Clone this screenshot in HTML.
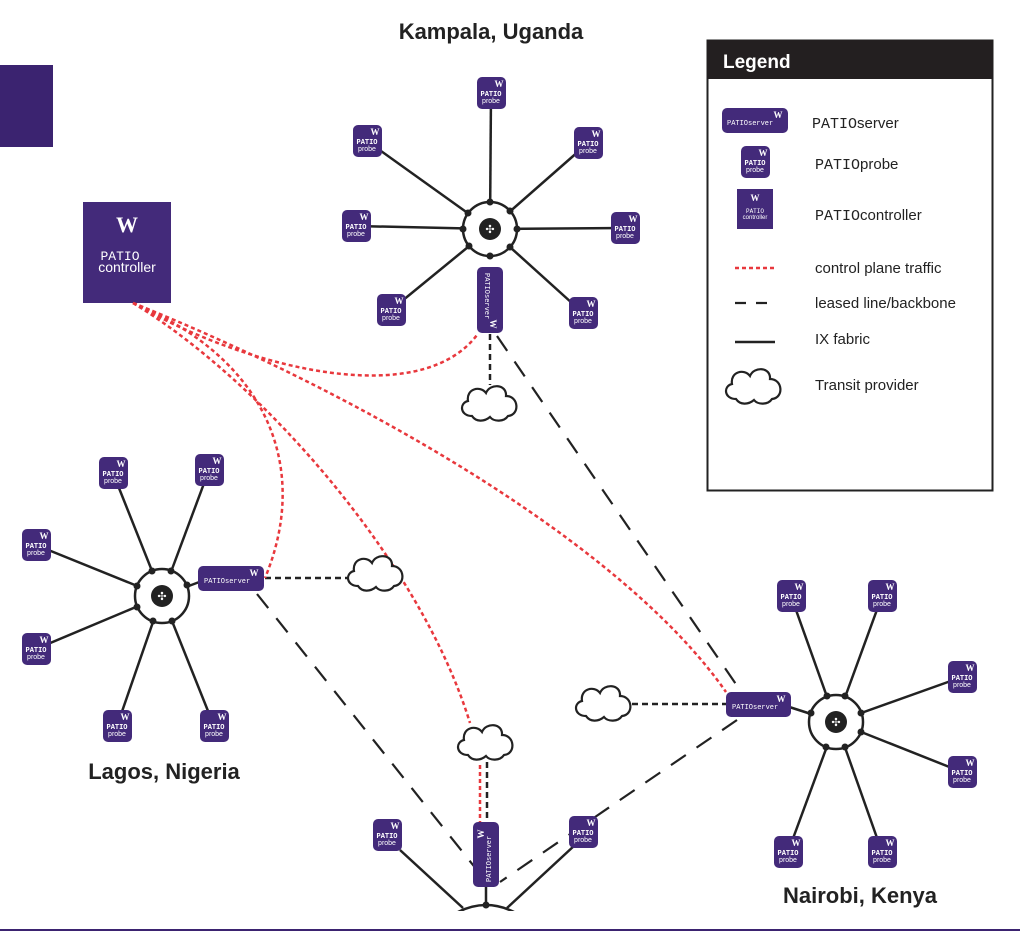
<!DOCTYPE html>
<html><head><meta charset="utf-8"><style>
html,body{margin:0;padding:0;background:#fff;}
svg{display:block;}
.p{fill:#432a7a;}
.w{fill:#fff;font-family:"Liberation Serif",serif;font-weight:bold;font-size:9px;text-anchor:middle;}
.t{fill:#fff;font-family:"Liberation Mono",monospace;font-size:7px;text-anchor:middle;font-weight:bold;}
.s{fill:#fff;font-family:"Liberation Sans",sans-serif;font-size:7px;text-anchor:middle;}
.ln{stroke:#222;stroke-width:2.5;fill:none;}
.red{stroke:#e8383d;stroke-width:2.5;fill:none;stroke-dasharray:4 3;}
.ld{stroke:#222;stroke-width:2.2;fill:none;stroke-dasharray:18 13;}
.sd{stroke:#222;stroke-width:2.5;fill:none;stroke-dasharray:6 4;}
.cl{fill:#fff;stroke:#222;stroke-width:2.2;}
.title{font-family:"Liberation Sans",sans-serif;font-weight:bold;font-size:22px;fill:#222;}
.lg{font-family:"Liberation Sans",sans-serif;font-size:15px;fill:#222;}
.lgm{font-family:"Liberation Mono",monospace;font-size:15px;fill:#222;}
</style></head><body>
<svg width="1020" height="932" viewBox="0 0 1020 932" xmlns="http://www.w3.org/2000/svg">
<rect x="0" y="65" width="53" height="82" fill="#3b2370"/>
<rect x="83" y="202" width="88" height="101" class="p"/>
<text x="127" y="232" class="w" style="font-size:22px">W</text>
<text x="120" y="260" style="fill:#fff;font-family:'Liberation Mono',monospace;font-size:13px;text-anchor:middle">PATIO</text>
<text x="127" y="272" style="fill:#fff;font-family:'Liberation Sans',sans-serif;font-size:14px;text-anchor:middle">controller</text>

<text x="491" y="39" class="title" text-anchor="middle">Kampala, Uganda</text>
<text x="164" y="779" class="title" text-anchor="middle">Lagos, Nigeria</text>
<text x="860" y="903" class="title" text-anchor="middle">Nairobi, Kenya</text>

<path class="ld" d="M497,336 L740,690"/>
<path class="ld" d="M257,594 L477,870"/>
<path class="ld" d="M737,720 L500,882"/>
<path class="sd" d="M490,334 L490,385"/>
<path class="sd" d="M265,578 L350,578"/>
<path class="sd" d="M632,704 L726,704"/>
<path class="sd" d="M487,762 L487,822"/>
<path class="red" d="M480,765 L480,822"/>

<path class="red" d="M133,303 C250,370 420,410 477,335"/>
<path class="red" d="M133,303 C270,360 310,470 265,578"/>
<path class="red" d="M133,303 C260,380 420,560 470,723"/>
<path class="red" d="M133,303 C350,390 620,540 726,692"/>

<g transform="translate(490,404)"><path class="cl" d="M-18,12 C-30,12 -31,-1 -22,-3 C-24,-15 -10,-19 -4,-11 C0,-21 17,-20 16,-8 C29,-8 30,11 18,12 C14,18 4,18 0,13 C-6,18 -14,18 -18,12 Z"/></g>
<g transform="translate(376,574)"><path class="cl" d="M-18,12 C-30,12 -31,-1 -22,-3 C-24,-15 -10,-19 -4,-11 C0,-21 17,-20 16,-8 C29,-8 30,11 18,12 C14,18 4,18 0,13 C-6,18 -14,18 -18,12 Z"/></g>
<g transform="translate(604,704)"><path class="cl" d="M-18,12 C-30,12 -31,-1 -22,-3 C-24,-15 -10,-19 -4,-11 C0,-21 17,-20 16,-8 C29,-8 30,11 18,12 C14,18 4,18 0,13 C-6,18 -14,18 -18,12 Z"/></g>
<g transform="translate(486,743)"><path class="cl" d="M-18,12 C-30,12 -31,-1 -22,-3 C-24,-15 -10,-19 -4,-11 C0,-21 17,-20 16,-8 C29,-8 30,11 18,12 C14,18 4,18 0,13 C-6,18 -14,18 -18,12 Z"/></g>

<g class="ln">
<line x1="490" y1="229" x2="491" y2="93"/><line x1="490" y1="229" x2="367" y2="141"/><line x1="490" y1="229" x2="588" y2="143"/>
<line x1="490" y1="229" x2="356" y2="226"/><line x1="490" y1="229" x2="625" y2="228"/><line x1="490" y1="229" x2="391" y2="310"/><line x1="490" y1="229" x2="583" y2="313"/>
</g>
<g class="ln">
<line x1="162" y1="596" x2="113" y2="473"/><line x1="162" y1="596" x2="209" y2="470"/><line x1="162" y1="596" x2="36" y2="545"/>
<line x1="162" y1="596" x2="36" y2="649"/><line x1="162" y1="596" x2="117" y2="726"/><line x1="162" y1="596" x2="214" y2="726"/><line x1="162" y1="596" x2="210" y2="578"/>
</g>
<g class="ln">
<line x1="836" y1="722" x2="791" y2="596"/><line x1="836" y1="722" x2="882" y2="596"/><line x1="836" y1="722" x2="962" y2="677"/>
<line x1="836" y1="722" x2="962" y2="772"/><line x1="836" y1="722" x2="788" y2="852"/><line x1="836" y1="722" x2="882" y2="852"/><line x1="836" y1="722" x2="780" y2="704"/>
</g>
<g class="ln">
<line x1="400" y1="850" x2="463" y2="908"/><line x1="575" y1="845" x2="507" y2="908"/><line x1="486" y1="885" x2="486" y2="905"/>
</g>

<g>
<circle cx="490" cy="229" r="27" fill="#fff" stroke="#222" stroke-width="2.5"/>
<circle cx="490" cy="229" r="11" fill="#222"/>
<text x="490" y="233" style="fill:#fff;font-size:11px;font-family:'DejaVu Sans',sans-serif;text-anchor:middle">✣</text>
<g fill="#222"><circle cx="490" cy="202" r="3.5"/><circle cx="468" cy="213" r="3.5"/><circle cx="510" cy="211" r="3.5"/><circle cx="463" cy="229" r="3.5"/><circle cx="517" cy="229" r="3.5"/><circle cx="469" cy="246" r="3.5"/><circle cx="510" cy="247" r="3.5"/><circle cx="490" cy="256" r="3.5"/></g>
</g>
<g>
<circle cx="162" cy="596" r="27" fill="#fff" stroke="#222" stroke-width="2.5"/>
<circle cx="162" cy="596" r="11" fill="#222"/>
<text x="162" y="600" style="fill:#fff;font-size:11px;font-family:'DejaVu Sans',sans-serif;text-anchor:middle">✣</text>
<g fill="#222"><circle cx="152" cy="571" r="3.5"/><circle cx="171" cy="571" r="3.5"/><circle cx="137" cy="586" r="3.5"/><circle cx="137" cy="607" r="3.5"/><circle cx="153" cy="621" r="3.5"/><circle cx="172" cy="621" r="3.5"/><circle cx="187" cy="585" r="3.5"/></g>
</g>
<g>
<circle cx="836" cy="722" r="27" fill="#fff" stroke="#222" stroke-width="2.5"/>
<circle cx="836" cy="722" r="11" fill="#222"/>
<text x="836" y="726" style="fill:#fff;font-size:11px;font-family:'DejaVu Sans',sans-serif;text-anchor:middle">✣</text>
<g fill="#222"><circle cx="827" cy="696" r="3.5"/><circle cx="845" cy="696" r="3.5"/><circle cx="861" cy="713" r="3.5"/><circle cx="861" cy="732" r="3.5"/><circle cx="826" cy="747" r="3.5"/><circle cx="845" cy="747" r="3.5"/><circle cx="811" cy="713" r="3.5"/></g>
</g>
<g>
<path d="M458,912 Q486,898 514,912" fill="none" stroke="#222" stroke-width="2.5"/>
<circle cx="486" cy="905" r="3.5" fill="#222"/>
</g>
<rect x="0" y="911" width="1020" height="18" fill="#fff"/>
<rect x="0" y="929" width="1020" height="2" fill="#3b2370"/>

<g transform="translate(477,267)"><rect width="26" height="66" rx="5" class="p"/>
<text x="13" y="57" class="w" transform="rotate(90 13 57)">W</text>
<text x="8" y="6" transform="rotate(90 8 6)" style="fill:#fff;font-family:'Liberation Mono',monospace;font-size:7px">PATIOserver</text></g>
<g transform="translate(473,822)"><rect width="26" height="65" rx="5" class="p"/>
<text x="11" y="12" class="w" transform="rotate(-90 11 12)">W</text>
<text x="18" y="60" transform="rotate(-90 18 60)" style="fill:#fff;font-family:'Liberation Mono',monospace;font-size:7px">PATIOserver</text></g>
<g transform="translate(198,566)"><rect width="66" height="25" rx="5" class="p"/>
<text x="56" y="10" class="w">W</text>
<text x="6" y="17" style="fill:#fff;font-family:'Liberation Mono',monospace;font-size:7px">PATIOserver</text></g>
<g transform="translate(726,692)"><rect width="65" height="25" rx="5" class="p"/>
<text x="55" y="10" class="w">W</text>
<text x="6" y="17" style="fill:#fff;font-family:'Liberation Mono',monospace;font-size:7px">PATIOserver</text></g>

<g transform="translate(491,93)"><rect x="-14" y="-16" width="29" height="32" rx="5" class="p"/><text x="8" y="-6" class="w">W</text><text x="0" y="3" class="t">PATIO</text><text x="0" y="10" class="s">probe</text></g>
<g transform="translate(367,141)"><rect x="-14" y="-16" width="29" height="32" rx="5" class="p"/><text x="8" y="-6" class="w">W</text><text x="0" y="3" class="t">PATIO</text><text x="0" y="10" class="s">probe</text></g>
<g transform="translate(588,143)"><rect x="-14" y="-16" width="29" height="32" rx="5" class="p"/><text x="8" y="-6" class="w">W</text><text x="0" y="3" class="t">PATIO</text><text x="0" y="10" class="s">probe</text></g>
<g transform="translate(356,226)"><rect x="-14" y="-16" width="29" height="32" rx="5" class="p"/><text x="8" y="-6" class="w">W</text><text x="0" y="3" class="t">PATIO</text><text x="0" y="10" class="s">probe</text></g>
<g transform="translate(625,228)"><rect x="-14" y="-16" width="29" height="32" rx="5" class="p"/><text x="8" y="-6" class="w">W</text><text x="0" y="3" class="t">PATIO</text><text x="0" y="10" class="s">probe</text></g>
<g transform="translate(391,310)"><rect x="-14" y="-16" width="29" height="32" rx="5" class="p"/><text x="8" y="-6" class="w">W</text><text x="0" y="3" class="t">PATIO</text><text x="0" y="10" class="s">probe</text></g>
<g transform="translate(583,313)"><rect x="-14" y="-16" width="29" height="32" rx="5" class="p"/><text x="8" y="-6" class="w">W</text><text x="0" y="3" class="t">PATIO</text><text x="0" y="10" class="s">probe</text></g>

<g transform="translate(113,473)"><rect x="-14" y="-16" width="29" height="32" rx="5" class="p"/><text x="8" y="-6" class="w">W</text><text x="0" y="3" class="t">PATIO</text><text x="0" y="10" class="s">probe</text></g>
<g transform="translate(209,470)"><rect x="-14" y="-16" width="29" height="32" rx="5" class="p"/><text x="8" y="-6" class="w">W</text><text x="0" y="3" class="t">PATIO</text><text x="0" y="10" class="s">probe</text></g>
<g transform="translate(36,545)"><rect x="-14" y="-16" width="29" height="32" rx="5" class="p"/><text x="8" y="-6" class="w">W</text><text x="0" y="3" class="t">PATIO</text><text x="0" y="10" class="s">probe</text></g>
<g transform="translate(36,649)"><rect x="-14" y="-16" width="29" height="32" rx="5" class="p"/><text x="8" y="-6" class="w">W</text><text x="0" y="3" class="t">PATIO</text><text x="0" y="10" class="s">probe</text></g>
<g transform="translate(117,726)"><rect x="-14" y="-16" width="29" height="32" rx="5" class="p"/><text x="8" y="-6" class="w">W</text><text x="0" y="3" class="t">PATIO</text><text x="0" y="10" class="s">probe</text></g>
<g transform="translate(214,726)"><rect x="-14" y="-16" width="29" height="32" rx="5" class="p"/><text x="8" y="-6" class="w">W</text><text x="0" y="3" class="t">PATIO</text><text x="0" y="10" class="s">probe</text></g>

<g transform="translate(791,596)"><rect x="-14" y="-16" width="29" height="32" rx="5" class="p"/><text x="8" y="-6" class="w">W</text><text x="0" y="3" class="t">PATIO</text><text x="0" y="10" class="s">probe</text></g>
<g transform="translate(882,596)"><rect x="-14" y="-16" width="29" height="32" rx="5" class="p"/><text x="8" y="-6" class="w">W</text><text x="0" y="3" class="t">PATIO</text><text x="0" y="10" class="s">probe</text></g>
<g transform="translate(962,677)"><rect x="-14" y="-16" width="29" height="32" rx="5" class="p"/><text x="8" y="-6" class="w">W</text><text x="0" y="3" class="t">PATIO</text><text x="0" y="10" class="s">probe</text></g>
<g transform="translate(962,772)"><rect x="-14" y="-16" width="29" height="32" rx="5" class="p"/><text x="8" y="-6" class="w">W</text><text x="0" y="3" class="t">PATIO</text><text x="0" y="10" class="s">probe</text></g>
<g transform="translate(788,852)"><rect x="-14" y="-16" width="29" height="32" rx="5" class="p"/><text x="8" y="-6" class="w">W</text><text x="0" y="3" class="t">PATIO</text><text x="0" y="10" class="s">probe</text></g>
<g transform="translate(882,852)"><rect x="-14" y="-16" width="29" height="32" rx="5" class="p"/><text x="8" y="-6" class="w">W</text><text x="0" y="3" class="t">PATIO</text><text x="0" y="10" class="s">probe</text></g>

<g transform="translate(387,835)"><rect x="-14" y="-16" width="29" height="32" rx="5" class="p"/><text x="8" y="-6" class="w">W</text><text x="0" y="3" class="t">PATIO</text><text x="0" y="10" class="s">probe</text></g>
<g transform="translate(583,832)"><rect x="-14" y="-16" width="29" height="32" rx="5" class="p"/><text x="8" y="-6" class="w">W</text><text x="0" y="3" class="t">PATIO</text><text x="0" y="10" class="s">probe</text></g>

<rect x="707.5" y="40.5" width="285" height="450" fill="#fff" stroke="#222" stroke-width="2"/>
<rect x="707" y="40" width="286" height="39" fill="#231f20"/>
<text x="723" y="68" style="fill:#fff;font-family:'Liberation Sans',sans-serif;font-weight:bold;font-size:19px">Legend</text>
<g transform="translate(722,108)"><rect width="66" height="25" rx="5" class="p"/><text x="56" y="10" class="w">W</text><text x="5" y="17" style="fill:#fff;font-family:'Liberation Mono',monospace;font-size:7px">PATIOserver</text></g>
<text x="812" y="128" class="lgm">PATIO<tspan style="font-family:'Liberation Sans',sans-serif">server</tspan></text>
<g transform="translate(755,162)"><rect x="-14" y="-16" width="29" height="32" rx="5" class="p"/><text x="8" y="-6" class="w">W</text><text x="0" y="3" class="t">PATIO</text><text x="0" y="10" class="s">probe</text></g>
<text x="815" y="169" class="lgm">PATIO<tspan style="font-family:'Liberation Sans',sans-serif">probe</tspan></text>
<g transform="translate(737,189)"><rect width="36" height="40" fill="#432a7a"/><text x="18" y="12" class="w">W</text><text x="18" y="24" style="fill:#fff;font-family:'Liberation Mono',monospace;font-size:6px;text-anchor:middle">PATIO</text><text x="18" y="30" style="fill:#fff;font-family:'Liberation Sans',sans-serif;font-size:6px;text-anchor:middle">controller</text></g>
<text x="815" y="220" class="lgm">PATIO<tspan style="font-family:'Liberation Sans',sans-serif">controller</tspan></text>
<line x1="735" y1="268" x2="775" y2="268" class="red"/>
<text x="815" y="273" class="lg">control plane traffic</text>
<line x1="735" y1="303" x2="777" y2="303" stroke="#222" stroke-width="2.2" stroke-dasharray="11 10"/>
<text x="815" y="308" class="lg">leased line/backbone</text>
<line x1="735" y1="342" x2="775" y2="342" stroke="#222" stroke-width="2.5"/>
<text x="815" y="344" class="lg">IX fabric</text>
<g transform="translate(754,387)"><path class="cl" d="M-18,12 C-30,12 -31,-1 -22,-3 C-24,-15 -10,-19 -4,-11 C0,-21 17,-20 16,-8 C29,-8 30,11 18,12 C14,18 4,18 0,13 C-6,18 -14,18 -18,12 Z"/></g>
<text x="815" y="390" class="lg">Transit provider</text>
</svg>
</body></html>
